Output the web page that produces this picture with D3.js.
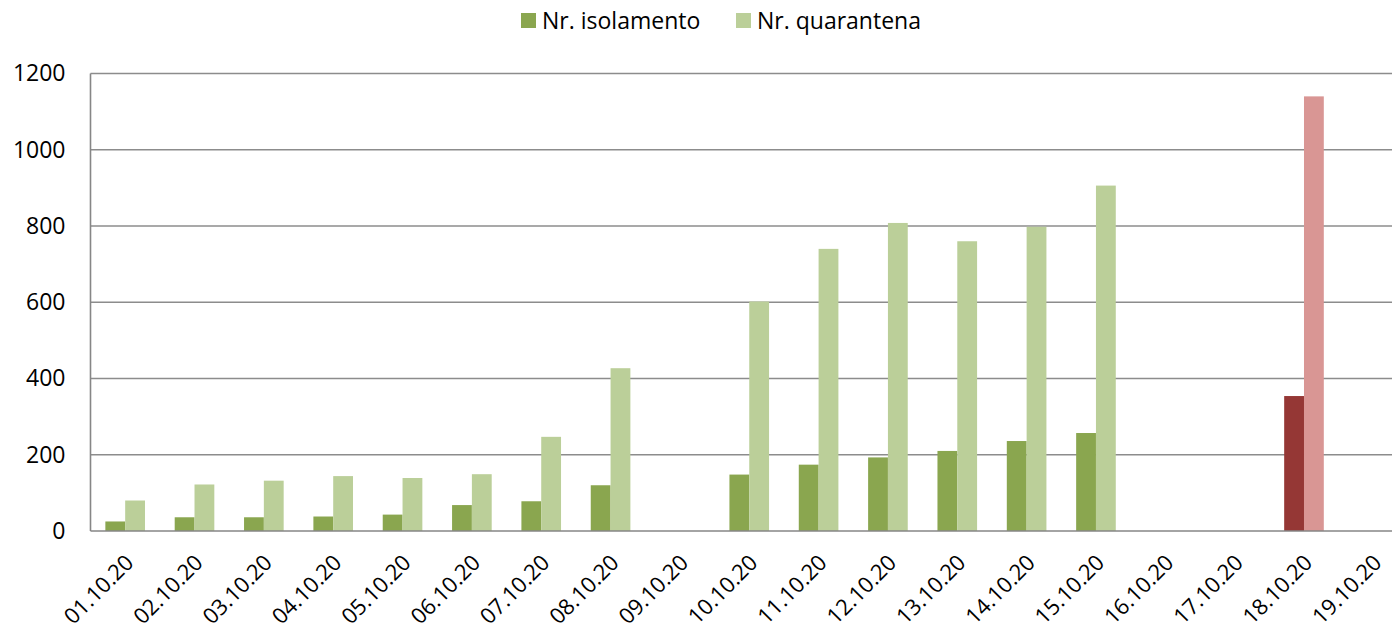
<!DOCTYPE html>
<html>
<head>
<meta charset="utf-8">
<script src="https://cdn.jsdelivr.net/npm/d3@7"></script>
<style>
  body { margin: 0; background: #fff; }
  text { font-family: "Open Sans", sans-serif; fill: #000; }
</style>
</head>
<body>
<script>
// Chart data
var dates = ["01.10.20", "02.10.20", "03.10.20", "04.10.20", "05.10.20", "06.10.20", "07.10.20",
  "08.10.20", "09.10.20", "10.10.20", "11.10.20", "12.10.20", "13.10.20", "14.10.20", "15.10.20",
  "16.10.20", "17.10.20", "18.10.20", "19.10.20"];
var isolamento = [25, 36, 36, 38, 43, 68, 78, 120, null, 148, 174, 193, 210, 236, 257, null, null, 354, null];
var quarantena = [80, 122, 132, 144, 139, 149, 247, 427, null, 602, 740, 808, 760, 798, 906, null, null, 1140, null];
var seriesNames = ["Nr. isolamento", "Nr. quarantena"];
var yTicks = [0, 200, 400, 600, 800, 1000, 1200];
var highlightDate = "18.10.20";

// Chart params
var svgWidth = 1392;
var svgHeight = 632;
var plot = { left: 90.5, right: 1408, top: 73.5, bottom: 531 };

var colors = ["#8AA64F", "#BBCF99"];
var highlightColors = ["#953735", "#D99694"];

var svg = d3.select("body")
  .append("svg")
  .attr("width", svgWidth)
  .attr("height", svgHeight);

// scales
var xScale = d3.scaleBand()
  .domain(dates)
  .range([plot.left, plot.right]);

var barW = xScale.bandwidth() / 3.5;
var xInner = d3.scaleBand()
  .domain(seriesNames)
  .range([xScale.bandwidth() / 2 - barW, xScale.bandwidth() / 2 + barW]);

var yScale = d3.scaleLinear()
  .domain([0, 1200])
  .range([plot.bottom, plot.top]);

// gridlines
svg.append("g")
  .selectAll("line")
  .data(yTicks.filter(d => d > 0))
  .enter()
  .append("line")
  .attr("x1", plot.left)
  .attr("x2", svgWidth)
  .attr("y1", d => yScale(d))
  .attr("y2", d => yScale(d))
  .attr("stroke", "#8c8c8c")
  .attr("stroke-width", 1.6);

// y axis labels
var leftAxis = d3.axisLeft(yScale)
  .tickValues(yTicks)
  .tickFormat(d3.format("d"))
  .tickSize(0)
  .tickPadding(25);

var yAxis = svg.append("g")
  .attr("transform", `translate(${plot.left}, 0)`)
  .call(leftAxis);
yAxis.select(".domain").remove();
yAxis.selectAll("text")
  .attr("font-size", "23px")
  .attr("font-family", "Open Sans, sans-serif")
  .attr("fill", "#000");

// bars
var rows = dates.map((d, i) => ({ date: d, values: [isolamento[i], quarantena[i]] }));

var groups = svg.append("g")
  .selectAll("g")
  .data(rows)
  .enter()
  .append("g")
  .attr("transform", d => `translate(${xScale(d.date)}, 0)`);

groups.selectAll("rect")
  .data(d => d.values.map((v, j) => ({ date: d.date, name: seriesNames[j], j: j, value: v }))
    .filter(e => e.value !== null))
  .enter()
  .append("rect")
  .attr("x", d => xInner(d.name))
  .attr("width", xInner.bandwidth())
  .attr("y", d => yScale(d.value))
  .attr("height", d => yScale(0) - yScale(d.value))
  .attr("fill", d => d.date === highlightDate ? highlightColors[d.j] : colors[d.j]);

// axis lines
svg.append("line")
  .attr("x1", plot.left).attr("x2", plot.left)
  .attr("y1", plot.top).attr("y2", plot.bottom)
  .attr("stroke", "#868686").attr("stroke-width", 1.6);

var bottomAxis = d3.axisBottom(xScale).tickSize(0).tickPadding(0);
var xAxis = svg.append("g")
  .attr("transform", `translate(0, ${plot.bottom})`)
  .call(bottomAxis);
xAxis.select(".domain").remove();
xAxis.selectAll("text")
  .attr("font-size", "22px")
  .attr("font-family", "Open Sans, sans-serif")
  .attr("fill", "#000")
  .attr("text-anchor", "end")
  .attr("dy", null)
  .attr("y", 0)
  .attr("transform", `translate(${xScale.bandwidth() / 2 - 25}, 33) rotate(-45)`);

svg.append("line")
  .attr("x1", plot.left).attr("x2", svgWidth)
  .attr("y1", plot.bottom).attr("y2", plot.bottom)
  .attr("stroke", "#868686").attr("stroke-width", 1.6);

// legend
var legendX = [521, 736];
var legend = svg.append("g")
  .selectAll("g")
  .data(seriesNames)
  .enter()
  .append("g")
  .attr("transform", (d, i) => `translate(${legendX[i]}, 13)`);

legend.append("rect")
  .attr("width", 15)
  .attr("height", 15)
  .attr("fill", (d, i) => colors[i]);

legend.append("text")
  .attr("x", 21)
  .attr("y", 16)
  .attr("font-size", "23px")
  .text(d => d);
</script>
</body>
</html>
